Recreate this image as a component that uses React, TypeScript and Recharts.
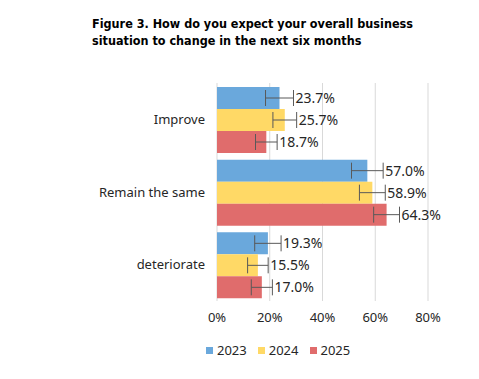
import React from 'react';
import { BarChart, Bar, XAxis, YAxis, CartesianGrid, ErrorBar, LabelList, Legend } from 'recharts';

const categories = ['Improve', 'Remain the same', 'deteriorate'];
const years = ['2023', '2024', '2025'];
const v2023 = [23.7, 57.0, 19.3];
const v2024 = [25.7, 58.9, 15.5];
const v2025 = [18.7, 64.3, 17.0];
const e2023 = [5.3, 6.0, 5.0];
const e2024 = [4.5, 4.9, 3.9];
const e2025 = [4.1, 4.9, 4.0];
const xTicks = [0, 20, 40, 60, 80];

const colors = ['#6AA8DC', '#FFD966', '#E06C6C'];
const errors = [e2023, e2024, e2025];

const data = categories.map((name, i) => ({
  name,
  y2023: v2023[i],
  y2024: v2024[i],
  y2025: v2025[i],
  err2023: e2023[i],
  err2024: e2024[i],
  err2025: e2025[i],
}));

const font = '"Noto Sans", sans-serif';

// label sits just past the error bar's right cap
const makeLabel = (errs: number[]) => (props: any) => {
  const { x, y, width, height, value, index } = props;
  const pxPerUnit = width / value;
  const lx = x + width + errs[index] * pxPerUnit + 2;
  return (
    <text x={lx} y={y + height / 2} dy="0.35em" fontSize={14} fill="#262626" fontFamily={font}>
      {value.toFixed(1)}%
    </text>
  );
};

const LegendBox = () => (
  <div style={{ display: 'flex', fontFamily: font, fontSize: 13, color: '#262626' }}>
    {years.map((y, i) => (
      <div key={y} style={{ display: 'flex', alignItems: 'center', marginRight: 11 }}>
        <span style={{ width: 7, height: 7, background: colors[i], marginRight: 4, display: 'inline-block' }} />
        <span>{y}</span>
      </div>
    ))}
  </div>
);

export default function App() {
  return (
    <div style={{ position: 'absolute', left: 0, top: 0, width: 479, height: 379, background: '#fff' }}>
      <div
        style={{
          position: 'absolute',
          left: 92,
          top: 15,
          fontFamily: '"DejaVu Sans Condensed", "DejaVu Sans", sans-serif',
          fontStretch: 'condensed',
          fontWeight: 'bold',
          fontSize: 12.5,
          lineHeight: '17px',
          color: '#000',
        }}
      >
        Figure 3. How do you expect your overall business
        <br />
        situation to change in the next six months
      </div>
      <BarChart
        width={479}
        height={379}
        data={data}
        layout="vertical"
        margin={{ top: 83, right: 51, bottom: 48, left: 0 }}
        barCategoryGap={4}
        barGap={0}
      >
        <CartesianGrid horizontal={false} stroke="#D9D9D9" />
        <XAxis
          type="number"
          domain={[0, 80]}
          ticks={xTicks}
          tickFormatter={(v) => `${v}%`}
          axisLine={false}
          tickLine={false}
          tickMargin={6}
          height={30}
          tick={{ fontSize: 13, fill: '#262626', fontFamily: font }}
        />
        <YAxis
          type="category"
          dataKey="name"
          width={217}
          axisLine={false}
          tickLine={false}
          tickMargin={6}
          tick={{ fontSize: 13, fill: '#262626', fontFamily: font }}
        />
        {years.map((y, i) => (
          <Bar key={y} dataKey={`y${y}`} name={y} fill={colors[i]} isAnimationActive={false}>
            <ErrorBar dataKey={`err${y}`} direction="x" width={8} stroke="#595959" strokeWidth={1} />
            <LabelList dataKey={`y${y}`} content={makeLabel(errors[i])} />
          </Bar>
        ))}
        <Legend
          layout="horizontal"
          verticalAlign="middle"
          align="center"
          content={<LegendBox />}
          wrapperStyle={{ top: 341, left: 206, width: 'auto', height: 'auto' }}
        />
      </BarChart>
    </div>
  );
}
